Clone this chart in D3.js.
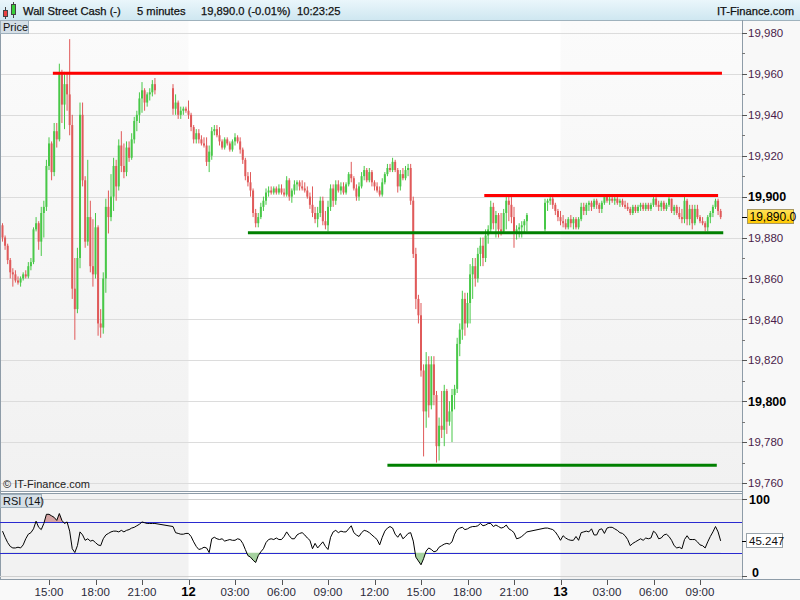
<!DOCTYPE html>
<html><head><meta charset="utf-8">
<script src="https://cdn.jsdelivr.net/npm/d3@7"></script>
<style>
body{margin:0;background:#fff;}
svg{display:block;font-family:"Liberation Sans",Arial,sans-serif;}
</style></head><body>
<svg id="c" width="800" height="600"></svg>
<script>
// ---------------- DATA ----------------
const startTime = Date.UTC(2017,0,11,12,0);   // first 10-minute bar
const barMinutes = 10;
const N = null;
const open = [
19886,19880,19876,19869,19863,19862,19859,19858,19860,19862,
19861,19866,19868,19884,19887,19878,19892,19895,19915,19926,
19912,19932,19928,19960,19945,19955,19950,19935,19855,19845,
19870,19940,19908,19878,19890,19866,19862,19885,19838,19836,
19860,19895,19890,19900,19915,19905,19925,19915,19912,19924,
19919,19928,19937,19940,19948,19952,19946,19950,19951,19955,
N,N,N,N,N,N,19953,19943,19946,19940,
19942,19943,19942,19940,19934,19928,19931,19928,19926,19925,
19917,19920,19932,19933,19930,19927,19924,19928,19926,19923,
19927,19929,19927,19923,19918,19910,19907,19903,19892,19887,
19890,19895,19898,19902,19903,19902,19904,19902,19904,19902,
19901,19908,19900,19903,19906,19907,19905,19904,19903,19900,
19896,19892,19889,19892,19898,19888,19886,19895,19904,19898,
19906,19903,19905,19902,19906,19911,19909,19904,19900,19905,
19910,19913,19908,19912,19907,19905,19903,19901,19907,19911,
19914,19913,19917,19913,19905,19911,19909,19913,19914,19898,
19872,19850,19842,19815,19795,19818,19798,19818,19803,19778,
19788,19786,19805,19790,19795,19803,19806,19828,19835,19850,
19838,19848,19862,19866,19860,19872,19876,19870,19881,19884,
19895,19887,19891,19884,19883,19892,19898,19896,19890,19882,
19884,19885,19886,19888,N,N,N,N,N,N,
19884,19897,19898,19899,19896,19893,19890,19888,19887,19885,
19889,19887,19889,19885,19889,19895,19893,19896,19897,19895,
19898,19896,19894,19897,19900,19898,19899,19898,19899,19897,
19898,19896,19895,19894,19892,19895,19893,19895,19896,19894,
19896,19894,19896,19899,19896,19895,19897,19894,19896,19899,
19893,19895,19892,19890,19889,19898,19889,19894,19887,19894,
19890,19888,19887,19885,19890,19892,19895,19898,19893];
const high = [
19887,19881,19877,19870,19865,19864,19861,19861,19863,19864,
19868,19870,19885,19890,19888,19895,19898,19918,19929,19927,
19936,19936,19965,19962,19961,19960,19977,19940,19870,19875,
19946,19946,19910,19918,19898,19889,19892,19886,19845,19863,
19899,19903,19911,19919,19918,19928,19932,19926,19927,19927,
19931,19939,19942,19951,19956,19953,19951,19953,19957,19958,
N,N,N,N,N,N,19955,19950,19947,19944,
19944,19944,19947,19941,19935,19933,19933,19930,19929,19929,
19925,19934,19935,19935,19934,19928,19929,19929,19927,19928,
19931,19930,19929,19924,19919,19912,19912,19904,19894,19892,
19897,19900,19904,19905,19905,19905,19905,19906,19906,19904,
19910,19909,19904,19908,19908,19908,19908,19907,19905,19902,
19905,19895,19895,19900,19900,19893,19898,19906,19906,19908,
19908,19907,19907,19907,19912,19917,19910,19906,19907,19912,
19915,19914,19914,19913,19908,19907,19905,19909,19912,19916,
19916,19919,19918,19914,19913,19914,19915,19916,19916,19900,
19875,19852,19848,19818,19824,19822,19822,19822,19805,19792,
19805,19808,19806,19800,19806,19808,19831,19838,19854,19853,
19853,19867,19870,19870,19875,19880,19880,19884,19886,19898,
19897,19893,19892,19892,19894,19900,19900,19900,19895,19886,
19887,19888,19889,19892,N,N,N,N,N,N,
19899,19899,19900,19900,19897,19894,19893,19891,19889,19890,
19891,19890,19890,19890,19897,19897,19897,19898,19898,19899,
19899,19897,19898,19901,19901,19900,19900,19900,19900,19899,
19899,19898,19897,19895,19896,19896,19896,19897,19897,19897,
19897,19897,19900,19900,19898,19898,19898,19897,19900,19899,
19896,19896,19895,19894,19900,19899,19896,19896,19896,19896,
19891,19890,19888,19891,19893,19896,19899,19899,19894];
const low = [
19878,19874,19867,19860,19856,19858,19857,19856,19859,19860,
19860,19864,19867,19883,19874,19871,19880,19893,19913,19908,
19910,19924,19927,19936,19933,19942,19930,19850,19830,19843,
19865,19905,19875,19876,19863,19856,19860,19832,19831,19833,
19853,19882,19888,19893,19898,19903,19912,19909,19910,19917,
19918,19926,19932,19936,19941,19942,19944,19947,19949,19950,
N,N,N,N,N,N,19940,19940,19938,19938,
19940,19941,19938,19932,19926,19926,19926,19925,19924,19915,
19912,19918,19930,19929,19925,19923,19923,19925,19922,19922,
19925,19926,19921,19916,19908,19905,19900,19890,19885,19885,
19889,19893,19896,19900,19901,19901,19901,19901,19901,19900,
19900,19898,19897,19901,19903,19903,19903,19902,19899,19894,
19890,19887,19885,19890,19886,19884,19883,19893,19895,19896,
19902,19901,19901,19901,19905,19907,19903,19898,19898,19904,
19908,19907,19907,19905,19903,19902,19900,19900,19906,19910,
19912,19912,19912,19902,19903,19908,19908,19910,19896,19870,
19845,19838,19812,19773,19787,19792,19796,19798,19770,19771,
19782,19778,19784,19788,19780,19796,19804,19822,19830,19832,
19836,19838,19850,19856,19858,19866,19866,19868,19877,19882,
19884,19880,19880,19881,19882,19884,19888,19887,19875,19879,
19880,19880,19882,19883,N,N,N,N,N,N,
19883,19893,19896,19894,19891,19888,19886,19885,19884,19884,
19885,19884,19884,19884,19888,19891,19891,19893,19893,19894,
19894,19892,19892,19896,19897,19896,19897,19896,19896,19895,
19895,19894,19893,19891,19891,19892,19892,19893,19893,19893,
19893,19893,19895,19895,19893,19893,19893,19893,19895,19892,
19891,19891,19889,19887,19887,19886,19886,19884,19886,19889,
19887,19886,19883,19883,19887,19890,19894,19891,19889];
const close = [
19880,19876,19869,19863,19862,19859,19858,19860,19862,19861,
19866,19868,19884,19887,19878,19892,19895,19915,19926,19912,
19932,19928,19960,19945,19955,19950,19935,19855,19845,19870,
19940,19908,19878,19890,19866,19862,19885,19838,19836,19860,
19895,19890,19900,19915,19905,19925,19915,19912,19924,19919,
19928,19937,19940,19948,19952,19946,19950,19951,19955,19952,
N,N,N,N,N,N,19943,19946,19940,19942,
19943,19942,19940,19934,19928,19931,19928,19926,19925,19917,
19922,19932,19933,19930,19927,19924,19928,19926,19923,19927,
19929,19927,19923,19918,19910,19907,19903,19892,19887,19890,
19895,19898,19902,19903,19902,19904,19902,19904,19902,19901,
19908,19900,19903,19906,19907,19905,19904,19903,19900,19896,
19892,19889,19892,19898,19888,19886,19895,19904,19898,19906,
19903,19905,19902,19906,19911,19909,19904,19900,19905,19910,
19913,19908,19912,19907,19905,19903,19901,19907,19911,19914,
19913,19917,19913,19905,19911,19909,19913,19914,19898,19872,
19850,19842,19815,19795,19818,19798,19818,19803,19778,19788,
19786,19805,19790,19795,19803,19806,19828,19835,19850,19838,
19848,19862,19866,19860,19872,19876,19870,19881,19884,19895,
19887,19891,19884,19883,19892,19898,19896,19890,19882,19884,
19885,19886,19888,19891,N,N,N,N,N,N,
19897,19898,19899,19896,19893,19890,19888,19887,19885,19889,
19887,19889,19885,19889,19895,19893,19896,19897,19895,19898,
19896,19894,19897,19900,19898,19899,19898,19899,19897,19898,
19896,19895,19894,19892,19895,19893,19895,19896,19894,19896,
19894,19896,19899,19896,19895,19897,19894,19896,19899,19893,
19895,19892,19890,19889,19898,19889,19894,19887,19894,19890,
19888,19887,19885,19890,19892,19895,19898,19893,19890];
const rsi = [
58,50,43,38,36,36,37,36,40,48,
54,56,61,71,63,60,68,80,80,78,
76,72,81,72,68,70,58,35,30,39,
57,53,46,48,45,46,43,40,39,48,
53,55,57,58,58,57,59,57,59,60,
62,63,65,67,70,69,68,68,68,68,
N,N,N,N,N,N,64,56,55,54,
54,55,55,51,44,38,34,35,37,36,
30,48,50,48,47,48,45,46,47,46,
46,48,47,42,34,26,24,20,17,26,
31,35,43,47,48,47,49,47,47,51,
57,52,48,48,53,55,56,53,49,46,
35,42,36,40,44,38,34,50,57,59,
56,58,57,57,61,65,56,53,51,56,
59,58,56,53,50,47,40,50,58,62,
64,62,54,50,55,48,51,55,56,45,
24,19,14,22,32,36,34,31,32,37,
39,41,42,41,44,54,60,62,63,60,
61,63,64,64,65,68,65,66,68,68,
64,66,64,62,63,66,61,59,56,48,
49,51,54,57,N,N,N,N,N,N,
62,62,61,60,57,52,46,52,49,47,
46,46,51,46,56,57,58,57,61,53,
53,60,61,55,62,63,63,61,59,56,
55,52,47,39,42,44,46,48,46,49,
48,49,58,55,48,49,53,54,51,46,
39,36,37,35,47,52,47,47,47,44,
40,39,36,44,51,57,64,57,45.247];

const priceTicks = [19760,19780,19800,19820,19840,19860,19880,19900,19920,19940,19960,19980];
const boldPriceTicks = [19800,19900];
const lastPrice = 19890.0;
const lastRsi = 45.247;
const rsiLevels = [30,70];
const rsiTicks = [0,100];
const timeTickTimes = ["2017-01-11T15:00Z","2017-01-11T18:00Z","2017-01-11T21:00Z","2017-01-12T00:00Z",
 "2017-01-12T03:00Z","2017-01-12T06:00Z","2017-01-12T09:00Z","2017-01-12T12:00Z","2017-01-12T15:00Z",
 "2017-01-12T18:00Z","2017-01-12T21:00Z","2017-01-13T00:00Z","2017-01-13T03:00Z","2017-01-13T06:00Z","2017-01-13T09:00Z"];
const timeTickLabels = ["15:00","18:00","21:00","12","03:00","06:00","09:00","12:00","15:00","18:00","21:00","13","03:00","06:00","09:00"];
const dayStarts = ["2017-01-12T00:00Z","2017-01-13T00:00Z"];
const levelPrice = [19960.3,19882.3,19900.5,19768.7];
const levelStart = ["2017-01-11T15:15Z","2017-01-12T03:50Z","2017-01-12T19:05Z","2017-01-12T12:50Z"];
const levelEnd   = ["2017-01-13T10:25Z","2017-01-13T10:30Z","2017-01-13T10:10Z","2017-01-13T10:05Z"];
const levelKind  = ["resistance","support","resistance","support"];
const headerParts = ["Wall Street Cash (-)","5 minutes","19,890.0 (-0.01%)","10:23:25"];

// ---------------- LAYOUT / STYLE ----------------
const plotR = 742;
const C = {up:"#48c848", down:"#e05a5a", resistance:"#ff0000", support:"#008000",
  grid:"#dcdcdc", frame:"#8e9ca8", shade:"#f2f2f2", axisTxt:"#4a1d4a", band:"#2a2ad0"};

const svg = d3.select("#c");
const defs = svg.append("defs");
const hg = defs.append("linearGradient").attr("id","hdr").attr("x1",0).attr("y1",0).attr("x2",0).attr("y2",1);
hg.append("stop").attr("offset","0%").attr("stop-color","#eaf6fb");
hg.append("stop").attr("offset","100%").attr("stop-color","#cfe7f1");
const sg = defs.append("linearGradient").attr("id","shd").attr("x1",0).attr("y1",0).attr("x2",0).attr("y2",1);
sg.append("stop").attr("offset","0%").attr("stop-color","#fbfbfb");
sg.append("stop").attr("offset","100%").attr("stop-color","#f1f1f1");
const yg = defs.append("linearGradient").attr("id","ylw").attr("x1",0).attr("y1",0).attr("x2",0).attr("y2",1);
yg.append("stop").attr("offset","0%").attr("stop-color","#ffe25a");
yg.append("stop").attr("offset","100%").attr("stop-color","#ffc800");

const x = d3.scaleUtc()
  .domain([new Date("2017-01-11T15:00Z"), new Date("2017-01-13T09:00Z")])
  .range([49,700]);
const y = d3.scaleLinear().domain([19760,19980]).range([483,33]);
const yr = d3.scaleLinear().domain([0,100]).range([575.5,499]);
const tOf = i => new Date(startTime + i*barMinutes*60000);

// backgrounds
svg.append("rect").attr("width",800).attr("height",600).attr("fill","#ffffff");
svg.append("rect").attr("x",plotR).attr("y",20).attr("width",800-plotR).attr("height",560).attr("fill","#f8f8f8");
const d12 = x(new Date(dayStarts[0])), d13 = x(new Date(dayStarts[1]));
[[0,d12],[d13,plotR]].forEach(([a,b])=>{
  svg.append("rect").attr("x",a).attr("y",21).attr("width",b-a).attr("height",470).attr("fill","url(#shd)");
  svg.append("rect").attr("x",a).attr("y",494).attr("width",b-a).attr("height",85).attr("fill",C.shade);
});
svg.append("rect").attr("x",0).attr("y",580).attr("width",800).attr("height",20).attr("fill","#f9f9f9");

// header
svg.append("rect").attr("width",800).attr("height",20).attr("fill","url(#hdr)");
svg.append("line").attr("x1",0).attr("x2",800).attr("y1",20.5).attr("y2",20.5).attr("stroke","#9fb2bd");
const icon = svg.append("g");
icon.append("line").attr("x1",5.5).attr("x2",5.5).attr("y1",7).attr("y2",19).attr("stroke","#444");
icon.append("rect").attr("x",3.5).attr("y",10.5).attr("width",4).attr("height",6).attr("fill","#e84040").attr("stroke","#444");
icon.append("line").attr("x1",13.5).attr("x2",13.5).attr("y1",2).attr("y2",18).attr("stroke","#444");
icon.append("rect").attr("x",11.5).attr("y",4.5).attr("width",4).attr("height",10).attr("fill","#38d038").attr("stroke","#444");
const hx = [23,137,201,297];
headerParts.forEach((t,i)=> svg.append("text").attr("x",hx[i]).attr("y",15).attr("font-size",11.2).attr("fill","#111")
  .attr("stroke","#111").attr("stroke-width",0.25).text(t));
svg.append("text").attr("x",794).attr("y",15).attr("text-anchor","end").attr("font-size",11.2).attr("fill","#111")
  .attr("stroke","#111").attr("stroke-width",0.25).text("IT-Finance.com");

// price grid
svg.append("g").selectAll("line").data(priceTicks).join("line")
  .attr("x1",0).attr("x2",plotR).attr("y1",d=>Math.round(y(d))+0.5).attr("y2",d=>Math.round(y(d))+0.5)
  .attr("stroke",C.grid);

// candles
const idx = d3.range(close.length).filter(i=>close[i]!=null);
const cg = svg.append("g");
cg.selectAll("rect.w").data(idx).join("rect").attr("class","w")
  .attr("x",i=>x(tOf(i))-0.5).attr("width",1)
  .attr("y",i=>y(high[i])).attr("height",i=>Math.max(1,y(low[i])-y(high[i])))
  .attr("fill",i=>close[i]>=open[i]?C.up:C.down);
cg.selectAll("rect.b").data(idx).join("rect").attr("class","b")
  .attr("x",i=>x(tOf(i))-1).attr("width",2)
  .attr("y",i=>y(Math.max(open[i],close[i])))
  .attr("height",i=>Math.max(1,Math.abs(y(open[i])-y(close[i]))))
  .attr("fill",i=>close[i]>=open[i]?C.up:C.down);

// support / resistance lines
svg.append("g").selectAll("line").data(levelPrice).join("line")
  .attr("x1",(d,i)=>x(new Date(levelStart[i]))).attr("x2",(d,i)=>x(new Date(levelEnd[i])))
  .attr("y1",d=>y(d)).attr("y2",d=>y(d))
  .attr("stroke",(d,i)=>C[levelKind[i]]).attr("stroke-width",3);

// frames
svg.append("line").attr("x1",0.5).attr("x2",0.5).attr("y1",20).attr("y2",580).attr("stroke",C.frame);
svg.append("line").attr("x1",0).attr("x2",plotR).attr("y1",491.5).attr("y2",491.5).attr("stroke",C.frame);
svg.append("line").attr("x1",0).attr("x2",plotR).attr("y1",493.5).attr("y2",493.5).attr("stroke",C.frame);
svg.append("line").attr("x1",0).attr("x2",800).attr("y1",579.5).attr("y2",579.5).attr("stroke",C.frame);
svg.append("line").attr("x1",plotR+0.5).attr("x2",plotR+0.5).attr("y1",20).attr("y2",580).attr("stroke",C.frame);

svg.append("text").attr("x",3).attr("y",488).attr("font-size",11).attr("fill","#222").text("© IT-Finance.com");

// labels boxes
svg.append("rect").attr("x",0.5).attr("y",20.5).attr("width",28).attr("height",13).attr("fill","#d5dfe7").attr("stroke","#9fb0bc");
svg.append("text").attr("x",3).attr("y",31).attr("font-size",11).attr("fill","#111").text("Price");

// price axis
const pa = svg.append("g").attr("transform",`translate(${plotR},0)`);
const minor = priceTicks.slice(0,-1).map(v=>v+10);
pa.selectAll("line.mi").data(minor).join("line").attr("class","mi")
  .attr("x1",0).attr("x2",3).attr("y1",d=>Math.round(y(d))+0.5).attr("y2",d=>Math.round(y(d))+0.5).attr("stroke","#777");
pa.selectAll("line.ma").data(priceTicks).join("line").attr("class","ma")
  .attr("x1",0).attr("x2",5).attr("y1",d=>Math.round(y(d))+0.5).attr("y2",d=>Math.round(y(d))+0.5).attr("stroke","#555");
pa.selectAll("text").data(priceTicks).join("text")
  .attr("x",6).attr("y",d=>y(d)).attr("dy","0.36em")
  .attr("font-size",d=>boldPriceTicks.includes(d)?12.5:11.5)
  .attr("font-weight",d=>boldPriceTicks.includes(d)?"bold":"normal")
  .attr("fill",d=>boldPriceTicks.includes(d)?"#000":C.axisTxt)
  .text(d=>d3.format(",")(d));
const ly = y(lastPrice);
pa.append("line").attr("x1",0).attr("x2",5).attr("y1",Math.round(ly)+0.5).attr("y2",Math.round(ly)+0.5).attr("stroke","#000");
pa.append("rect").attr("x",5.5).attr("y",Math.round(ly)-7.5).attr("width",46).attr("height",14).attr("fill","url(#ylw)").attr("stroke","#a89860");
pa.append("text").attr("x",7.5).attr("y",ly).attr("dy","0.36em").attr("font-size",12).attr("fill","#000").text(d3.format(",.1f")(lastPrice));

// RSI panel
svg.append("g").selectAll("line").data(rsiTicks).join("line")
  .attr("x1",0).attr("x2",plotR).attr("y1",d=>Math.round(yr(d))+0.5).attr("y2",d=>Math.round(yr(d))+0.5).attr("stroke","#cfcfcf");
svg.append("g").selectAll("line").data(rsiLevels).join("line")
  .attr("x1",0).attr("x2",plotR).attr("y1",d=>Math.round(yr(d))+0.5).attr("y2",d=>Math.round(yr(d))+0.5).attr("stroke",C.band);

const ridx = d3.range(rsi.length).filter(i=>rsi[i]!=null);
defs.append("clipPath").attr("id","ob").append("rect").attr("x",0).attr("y",495).attr("width",plotR).attr("height",yr(70)-495);
defs.append("clipPath").attr("id","os").append("rect").attr("x",0).attr("y",yr(30)).attr("width",plotR).attr("height",579-yr(30));
svg.append("path").datum(ridx).attr("clip-path","url(#ob)").attr("fill","#d6a4a4")
  .attr("d",d3.area().x(i=>x(tOf(i))).y0(yr(70)).y1(i=>yr(rsi[i])));
svg.append("path").datum(ridx).attr("clip-path","url(#os)").attr("fill","#a6d2a0")
  .attr("d",d3.area().x(i=>x(tOf(i))).y0(yr(30)).y1(i=>yr(rsi[i])));
svg.append("path").datum(ridx).attr("fill","none").attr("stroke","#000").attr("stroke-width",1)
  .attr("d",d3.line().x(i=>x(tOf(i))).y(i=>yr(rsi[i])));

svg.append("rect").attr("x",0.5).attr("y",494.5).attr("width",41).attr("height",13).attr("fill","#d5dfe7").attr("stroke","#9fb0bc");
svg.append("text").attr("x",3).attr("y",505).attr("font-size",11).attr("fill","#111").text("RSI (14)");

const ra = svg.append("g").attr("transform",`translate(${plotR},0)`);
ra.selectAll("line").data(rsiTicks).join("line").attr("x1",0).attr("x2",5)
  .attr("y1",d=>Math.round(yr(d))+0.5).attr("y2",d=>Math.round(yr(d))+0.5).attr("stroke","#555");
ra.selectAll("text").data(rsiTicks).join("text").attr("x",d=>d===100?7:10).attr("y",d=>yr(d)+(d===100?0:-3)).attr("dy","0.36em")
  .attr("font-size",12.5).attr("font-weight","bold").attr("fill","#000").text(d=>d);
const lry = yr(lastRsi);
ra.append("line").attr("x1",0).attr("x2",5).attr("y1",Math.round(lry)+0.5).attr("y2",Math.round(lry)+0.5).attr("stroke","#000");
ra.append("rect").attr("x",4.5).attr("y",Math.round(lry)-7.5).attr("width",36).attr("height",14).attr("fill","#fff").attr("stroke","#9aa4ab");
ra.append("text").attr("x",7).attr("y",lry).attr("dy","0.36em").attr("font-size",11.5).attr("fill","#111").text(lastRsi);

// time axis
const tt = timeTickTimes.map(s=>new Date(s));
const xa = svg.append("g");
xa.selectAll("line").data(tt).join("line")
  .attr("x1",d=>Math.round(x(d))+0.5).attr("x2",d=>Math.round(x(d))+0.5).attr("y1",580).attr("y2",585).attr("stroke","#555");
xa.selectAll("text").data(tt).join("text")
  .attr("x",d=>x(d)).attr("y",596).attr("text-anchor","middle")
  .attr("font-size",(d,i)=>timeTickLabels[i].length<=2?13:11.5)
  .attr("font-weight",(d,i)=>timeTickLabels[i].length<=2?"bold":"normal")
  .attr("fill",(d,i)=>timeTickLabels[i].length<=2?"#000":"#2a2a3a")
  .text((d,i)=>timeTickLabels[i]);
</script>
</body></html>
